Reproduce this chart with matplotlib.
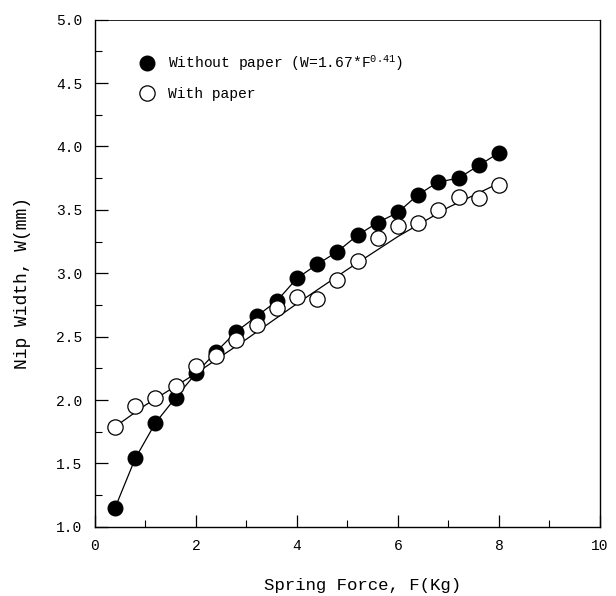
import matplotlib
matplotlib.use("Agg")
import matplotlib.pyplot as plt
from matplotlib.ticker import MultipleLocator, FormatStrFormatter

plt.rcParams['font.family'] = ['Liberation Mono', 'DejaVu Sans Mono']
plt.rcParams['mathtext.default'] = 'regular'

# spring force (Kg)
force = [0.4, 0.8, 1.2, 1.6, 2.0, 2.4, 2.8, 3.2, 3.6, 4.0,
         4.4, 4.8, 5.2, 5.6, 6.0, 6.4, 6.8, 7.2, 7.6, 8.0]
# nip width without paper (mm)
w_nopaper = [1.15, 1.54, 1.82, 2.02, 2.21, 2.38, 2.54, 2.66, 2.78, 2.96,
             3.07, 3.17, 3.30, 3.40, 3.48, 3.62, 3.72, 3.75, 3.85, 3.95]
# nip width with paper (mm)
w_paper = [1.79, 1.95, 2.02, 2.11, 2.27, 2.35, 2.47, 2.59, 2.73, 2.81,
           2.80, 2.95, 3.10, 3.28, 3.37, 3.40, 3.50, 3.60, 3.59, 3.70]
# fitted line through the "with paper" points
fit_force = [0.4, 1.0, 2.0, 3.0, 4.0, 5.0, 6.0, 7.0, 8.0]
fit_paper = [1.79, 1.96, 2.21, 2.48, 2.76, 3.03, 3.29, 3.52, 3.71]

fig = plt.figure(figsize=(6.16, 5.96), dpi=100)
ax = fig.add_axes([0.154, 0.116, 0.820, 0.851])

ax.plot(force, w_nopaper, "k-", linewidth=0.9)
ax.plot(force, w_nopaper, "o", color="black", markersize=10.5, linestyle="none",
        label="Without paper (W=1.67*F$^{0.41}$)")
ax.plot(fit_force, fit_paper, "k-", linewidth=0.9)
ax.plot(force, w_paper, "o", markerfacecolor="white", markeredgecolor="black",
        markeredgewidth=0.9, markersize=11, linestyle="none", label="With paper")

ax.set_xlim(0, 10)
ax.set_ylim(1.0, 5.0)
ax.xaxis.set_major_locator(MultipleLocator(2))
ax.xaxis.set_minor_locator(MultipleLocator(1))
ax.yaxis.set_major_locator(MultipleLocator(0.5))
ax.yaxis.set_minor_locator(MultipleLocator(0.25))
ax.xaxis.set_major_formatter(FormatStrFormatter("%d"))
ax.yaxis.set_major_formatter(FormatStrFormatter("%.1f"))
ax.tick_params(which="both", direction="in", top=False, right=False, labelsize=10.5)
ax.tick_params(which="major", length=9, width=0.9)
ax.tick_params(which="minor", length=5, width=0.8)
ax.tick_params(axis="x", pad=9)
ax.tick_params(axis="y", pad=9)

ax.set_xlabel("Spring Force, F(Kg)", fontsize=12.5)
ax.xaxis.set_label_coords(0.53, -0.10)
ax.set_ylabel("Nip Width, W(mm)", fontsize=13)
ax.yaxis.set_label_coords(-0.127, 0.481)

for s in ax.spines.values():
    s.set_linewidth(1.0)
ax.spines["top"].set_linewidth(0.6)

ax.legend(loc="upper left", bbox_to_anchor=(0.074, 0.945), frameon=False,
          fontsize=10.5, handlelength=1.2, handletextpad=0.84,
          labelspacing=0.95, borderaxespad=0.0)

plt.savefig("out.png", dpi=100)
